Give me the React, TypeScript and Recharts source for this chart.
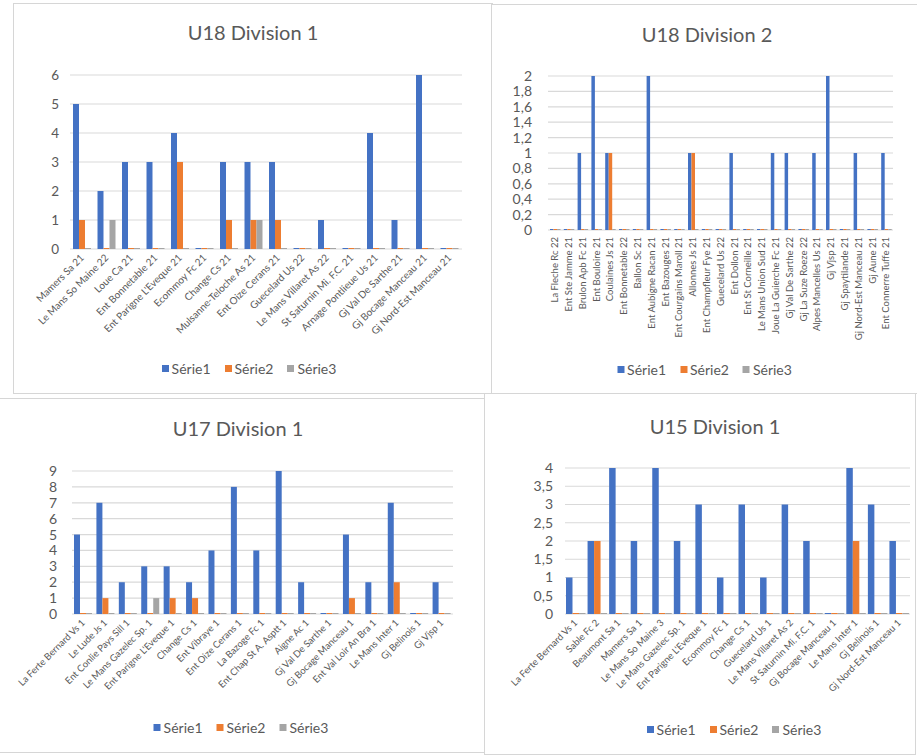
import React from 'react';
import { BarChart, Bar, XAxis, YAxis, CartesianGrid, Legend } from 'recharts';

const FONT = 'Lato, "Open Sans", sans-serif';
const TEXT = '#595959';
const GRID = '#d9d9d9';
const C1 = '#4472C4';
const C2 = '#ED7D31';
const C3 = '#A5A5A5';

// ---- U18 Division 1 ----
const u18d1Teams = [
  'Mamers Sa 21', 'Le Mans So Maine 22', 'Loue Ca 21', 'Ent Bonnetable 21',
  "Ent Parigne L'Eveque 21", 'Ecommoy Fc 21', 'Change Cs 21', 'Mulsanne-Teloche As 21',
  'Ent Oize Cerans 21', 'Guecelard Us 22', 'Le Mans Villaret As 22', 'St Saturnin Mi. F.C. 21',
  'Arnage Pontlieue  Us 21', 'Gj Val De Sarthe 21', 'Gj Bocage Manceau 21', 'Gj Nord-Est Manceau 21',
];
const u18d1Serie1 = [5, 2, 3, 3, 4, 0, 3, 3, 3, 0, 1, 0, 4, 1, 6, 0];
const u18d1Serie2 = [1, 0, 0, 0, 3, 0, 1, 1, 1, 0, 0, 0, 0, 0, 0, 0];
const u18d1Serie3 = [0, 1, 0, 0, 0, 0, 0, 1, 0, 0, 0, 0, 0, 0, 0, 0];
const u18d1Ticks = [0, 1, 2, 3, 4, 5, 6];

// ---- U18 Division 2 ----
const u18d2Teams = [
  'La Fleche Rc 22', 'Ent Ste Jamme 21', 'Brulon Apb Fc 21', 'Ent Bouloire 21', 'Coulaines Js 21',
  'Ent Bonnetable 22', 'Ballon Sc 21', 'Ent Aubigne Racan 21', 'Ent Bazouges 21', 'Ent Courgains Maroll 21',
  'Allonnes Js 21', 'Ent Champfleur Fye 21', 'Guecelard Us 22', 'Ent Dollon 21', 'Ent St Corneille 21',
  'Le Mans Union Sud 21', 'Joue La Guierche Fc 21', 'Gj Val De Sarthe 22', 'Gj La Suze Roeze 22',
  'Alpes Mancelles Us 21', 'Gj Vjsp 21', 'Gj Spaytilande 21', 'Gj Nord-Est Manceau 21', 'Gj Aune 21',
  'Ent Connerre Tuffe 21',
];
const u18d2Serie1 = [0, 0, 1, 2, 1, 0, 0, 2, 0, 0, 1, 0, 0, 1, 0, 0, 1, 1, 0, 1, 2, 0, 1, 0, 1];
const u18d2Serie2 = [0, 0, 0, 0, 1, 0, 0, 0, 0, 0, 1, 0, 0, 0, 0, 0, 0, 0, 0, 0, 0, 0, 0, 0, 0];
const u18d2Serie3 = [0, 0, 0, 0, 0, 0, 0, 0, 0, 0, 0, 0, 0, 0, 0, 0, 0, 0, 0, 0, 0, 0, 0, 0, 0];
const u18d2Ticks = [0, 0.2, 0.4, 0.6, 0.8, 1, 1.2, 1.4, 1.6, 1.8, 2];

// ---- U17 Division 1 ----
const u17d1Teams = [
  'La Ferte Bernard Vs 1', 'Le Lude Js 1', 'Ent Conlie Pays Sill 1', 'Le Mans Gazelec Sp. 1',
  "Ent Parigne L'Eveque 1", 'Change Cs 1', 'Ent Vibraye 1', 'Ent Oize Cerans 1', 'La Bazoge Fc 1',
  'Ent Chap St A. Asptt 1', 'Aigne Ac 1', 'Gj Val De Sarthe 1', 'Gj Bocage Manceau 1',
  'Ent Val Loir An Bra 1', 'Le Mans Inter 1', 'Gj Belinois 1', 'Gj Vjsp 1',
];
const u17d1Serie1 = [5, 7, 2, 3, 3, 2, 4, 8, 4, 9, 2, 0, 5, 2, 7, 0, 2];
const u17d1Serie2 = [0, 1, 0, 0, 1, 1, 0, 0, 0, 0, 0, 0, 1, 0, 2, 0, 0];
const u17d1Serie3 = [0, 0, 0, 1, 0, 0, 0, 0, 0, 0, 0, 0, 0, 0, 0, 0, 0];
const u17d1Ticks = [0, 1, 2, 3, 4, 5, 6, 7, 8, 9];

// ---- U15 Division 1 ----
const u15d1Teams = [
  'La Ferte Bernard Vs 1', 'Sable Fc 2', 'Beaumont Sa 1', 'Mamers Sa 1', 'Le Mans So Maine 3',
  'Le Mans Gazelec Sp. 1', "Ent Parigne L'Eveque 1", 'Ecommoy Fc 1', 'Change Cs 1', 'Guecelard Us 1',
  'Le Mans Villaret As 2', 'St Saturnin Mi. F.C. 1', 'Gj Bocage Manceau 1', 'Le Mans Inter 1',
  'Gj Belinois 1', 'Gj Nord-Est Manceau 1',
];
const u15d1Serie1 = [1, 2, 4, 2, 4, 2, 3, 1, 3, 1, 3, 2, 0, 4, 3, 2];
const u15d1Serie2 = [0, 2, 0, 0, 0, 0, 0, 0, 0, 0, 0, 0, 0, 2, 0, 0];
const u15d1Serie3 = [0, 0, 0, 0, 0, 0, 0, 0, 0, 0, 0, 0, 0, 0, 0, 0];
const u15d1Ticks = [0, 0.5, 1, 1.5, 2, 2.5, 3, 3.5, 4];

const seriesNames = ['Série1', 'Série2', 'Série3'];

function buildRows(teams: string[], a: number[], b: number[], c: number[]) {
  return teams.map((team, i) => ({ team, s1: a[i], s2: b[i], s3: c[i] }));
}

const fmt = (v: number) => String(v).replace('.', ',');

type PanelProps = {
  title: string;
  rows: any[];
  ticks: number[];
  left: number; top: number; width: number; height: number;
  margin: { top: number; right: number; bottom: number; left: number };
  yWidth: number; yTickMargin: number; yFont: number;
  xHeight: number; angle: number; xFont: number; xDy: number;
  barSize: number;
  titleX: number; titleY: number; legendX: number;
};

function Panel(p: PanelProps) {
  const tick = (props: any) => {
    const { x, y, payload } = props;
    return (
      <g transform={`translate(${x},${y + p.xDy})`}>
        <text
          textAnchor="end"
          transform={`rotate(${p.angle})`}
          fill={TEXT}
          fontSize={p.xFont}
          fontFamily={FONT}
          dy="0.35em"
        >
          {payload.value}
        </text>
      </g>
    );
  };
  const legendShift = p.legendX - p.left - p.width / 2;
  const legendContent = (props: any) => (
    <div
      style={{
        display: 'flex', justifyContent: 'center', alignItems: 'center', height: 20,
        fontFamily: FONT, fontSize: 14, color: TEXT, transform: `translateX(${legendShift}px)`,
      }}
    >
      {(props.payload || []).map((it: any) => (
        <span key={it.value} style={{ display: 'flex', alignItems: 'center', margin: '0 7px' }}>
          <span style={{ width: 7, height: 7, background: it.color, display: 'inline-block', marginRight: 3 }} />
          {it.value}
        </span>
      ))}
    </div>
  );
  return (
    <div
      style={{
        position: 'absolute', left: p.left, top: p.top, width: p.width, height: p.height,
        outline: '1px solid #d6d6d6', background: '#fff',
      }}
    >
      <div
        style={{
          position: 'absolute', left: p.titleX - p.left - 150, width: 300, top: p.titleY - p.top - 14,
          height: 28, lineHeight: '28px', textAlign: 'center', fontFamily: FONT, fontSize: 20, color: TEXT,
          zIndex: 2,
        }}
      >
        {p.title}
      </div>
      <div style={{ position: 'absolute', left: 0, top: 0 }}>
        <BarChart
          width={p.width}
          height={p.height}
          data={p.rows}
          margin={p.margin}
          barGap={0}
          barCategoryGap="20%"
        >
          <CartesianGrid vertical={false} stroke={GRID} strokeWidth={1.2} />
          <XAxis
            dataKey="team"
            interval={0}
            axisLine={false}
            tickLine={false}
            tickSize={0}
            tickMargin={0}
            height={p.xHeight}
            tick={tick}
          />
          <YAxis
            width={p.yWidth}
            ticks={p.ticks}
            domain={[p.ticks[0], p.ticks[p.ticks.length - 1]]}
            interval={0}
            axisLine={false}
            tickLine={false}
            tickMargin={p.yTickMargin}
            tickFormatter={fmt}
            tick={{ fill: TEXT, fontSize: p.yFont, fontFamily: FONT }}
          />
          <Legend verticalAlign="bottom" content={legendContent} wrapperStyle={{ height: 20 }} />
          <Bar dataKey="s1" name={seriesNames[0]} fill={C1} barSize={p.barSize} minPointSize={1} isAnimationActive={false} />
          <Bar dataKey="s2" name={seriesNames[1]} fill={C2} barSize={p.barSize} minPointSize={1} isAnimationActive={false} />
          <Bar dataKey="s3" name={seriesNames[2]} fill={C3} barSize={p.barSize} minPointSize={1} isAnimationActive={false} />
        </BarChart>
      </div>
    </div>
  );
}

export default function App() {
  return (
    <div style={{ position: 'absolute', left: 0, top: 0, width: 917, height: 755, background: '#fff', overflow: 'hidden' }}>
      <Panel
        title="U18 Division 1"
        rows={buildRows(u18d1Teams, u18d1Serie1, u18d1Serie2, u18d1Serie3)}
        ticks={u18d1Ticks}
        left={14} top={4} width={478} height={389}
        margin={{ top: 71, right: 30, bottom: 15, left: 16 }}
        yWidth={40} yTickMargin={5} yFont={13.5}
        xHeight={109} angle={-45} xFont={10} xDy={7}
        barSize={6}
        titleX={253} titleY={32} legendX={256}
      />
      <Panel
        title="U18 Division 2"
        rows={buildRows(u18d2Teams, u18d2Serie1, u18d2Serie2, u18d2Serie3)}
        ticks={u18d2Ticks}
        left={492} top={5} width={425} height={388}
        margin={{ top: 71, right: 24, bottom: 14, left: 11 }}
        yWidth={45} yTickMargin={10} yFont={14}
        xHeight={129} angle={-90} xFont={9.5} xDy={7}
        barSize={3.5}
        titleX={707} titleY={34} legendX={711}
      />
      <Panel
        title="U17 Division 1"
        rows={buildRows(u17d1Teams, u17d1Serie1, u17d1Serie2, u17d1Serie3)}
        ticks={u17d1Ticks}
        left={0} top={399} width={485} height={353}
        margin={{ top: 72, right: 32, bottom: 15, left: 32 }}
        yWidth={40} yTickMargin={9} yFont={14}
        xHeight={103} angle={-45} xFont={9.5} xDy={7}
        barSize={6}
        titleX={238} titleY={428} legendX={241}
      />
      <Panel
        title="U15 Division 1"
        rows={buildRows(u15d1Teams, u15d1Serie1, u15d1Serie2, u15d1Serie3)}
        ticks={u15d1Ticks}
        left={485} top={394} width={430} height={360}
        margin={{ top: 74, right: 5, bottom: 15, left: 35 }}
        yWidth={45} yTickMargin={6} yFont={14}
        xHeight={105} angle={-45} xFont={9.5} xDy={7}
        barSize={6.5}
        titleX={715} titleY={426} legendX={719}
      />
    </div>
  );
}
